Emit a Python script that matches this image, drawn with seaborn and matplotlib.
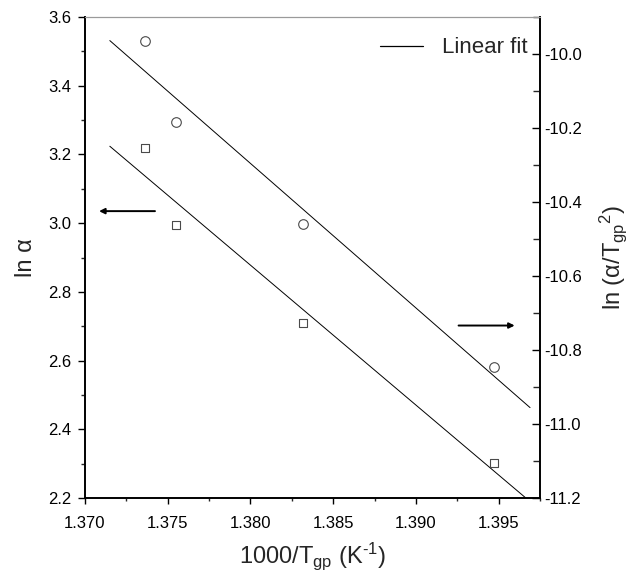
import numpy as np
import pandas as pd
import matplotlib
matplotlib.use("Agg")
import matplotlib.pyplot as plt
from matplotlib.lines import Line2D
from matplotlib.ticker import MultipleLocator, FormatStrFormatter
import seaborn as sns

# Kissinger-type data: inverse peak temperature vs heating-rate terms
inv_tgp = [1.3736, 1.3755, 1.3832, 1.3947]          # 1000/Tgp (K^-1)
ln_alpha = [3.219, 2.996, 2.708, 2.303]             # ln(alpha), left axis
ln_alpha_t2 = [-9.965, -10.185, -10.460, -10.846]   # ln(alpha/Tgp^2), right axis
fit_span = [1.3715, 1.3969]                         # x range of the fitted lines

sns.set_theme(style="white")
plt.rcParams["font.family"] = ["Liberation Sans", "DejaVu Sans"]
plt.rcParams["mathtext.fontset"] = "custom"
plt.rcParams["mathtext.rm"] = "Liberation Sans"
plt.rcParams["mathtext.it"] = "Liberation Sans:italic"
plt.rcParams["mathtext.bf"] = "Liberation Sans:bold"
plt.rcParams["axes.unicode_minus"] = False

df = pd.DataFrame({"x": inv_tgp, "ln_a": ln_alpha, "ln_at2": ln_alpha_t2})

# least-squares lines through each series
p_left = np.polyfit(df["x"], df["ln_a"], 1)
p_right = np.polyfit(df["x"], df["ln_at2"], 1)
xf = np.array(fit_span)
fit_left = pd.DataFrame({"x": xf, "y": np.polyval(p_left, xf)})
fit_right = pd.DataFrame({"x": xf, "y": np.polyval(p_right, xf)})

fig = plt.figure(figsize=(6.41, 5.73), dpi=100)
ax = fig.add_axes([0.1326, 0.1309, 0.7098, 0.8394])
ax2 = ax.twinx()

mk_edge = "#4a4a4a"
sns.scatterplot(data=df, x="x", y="ln_a", ax=ax, marker="s", s=38,
                facecolor="white", edgecolor=mk_edge, linewidth=0.8, zorder=3)
sns.lineplot(data=fit_left, x="x", y="y", ax=ax, color="black", lw=0.7)

sns.scatterplot(data=df, x="x", y="ln_at2", ax=ax2, marker="o", s=48,
                facecolor="white", edgecolor=mk_edge, linewidth=0.8, zorder=3)
sns.lineplot(data=fit_right, x="x", y="y", ax=ax2, color="black", lw=0.7)

ax.set_xlim(1.370, 1.3975)
ax.set_ylim(2.2, 3.6)
ax2.set_ylim(-11.2, -9.9)

ax.xaxis.set_major_locator(MultipleLocator(0.005))
ax.xaxis.set_minor_locator(MultipleLocator(0.0025))
ax.xaxis.set_major_formatter(FormatStrFormatter("%.3f"))
ax.yaxis.set_major_locator(MultipleLocator(0.2))
ax.yaxis.set_minor_locator(MultipleLocator(0.1))
ax.yaxis.set_major_formatter(FormatStrFormatter("%.1f"))
ax2.yaxis.set_major_locator(MultipleLocator(0.2))
ax2.yaxis.set_minor_locator(MultipleLocator(0.1))
ax2.yaxis.set_major_formatter(FormatStrFormatter("%.1f"))

tick_font = 12
ax.tick_params(axis="x", which="major", direction="out", length=4.5, width=1.0,
               pad=8.5, labelsize=tick_font, colors="black", bottom=True, top=False)
ax.tick_params(axis="x", which="minor", direction="out", length=2.5, width=1.0,
               bottom=True, top=False)
ax.tick_params(axis="y", which="major", direction="out", length=5, width=1.0,
               pad=5, labelsize=tick_font, colors="black", left=True, right=False)
ax.tick_params(axis="y", which="minor", direction="out", length=3, width=1.0,
               left=True, right=False)
ax2.tick_params(axis="y", which="major", direction="in", length=6, width=1.0,
                pad=3, labelsize=tick_font, colors="black", right=True, left=False)
ax2.tick_params(axis="y", which="minor", direction="in", length=5, width=1.0,
                right=True, left=False)

for a in (ax, ax2):
    for side in ("left", "bottom", "right"):
        a.spines[side].set_color("black")
        a.spines[side].set_linewidth(1.2)
    a.spines["top"].set_color("#9a9a9a")
    a.spines["top"].set_linewidth(0.8)

label_font = 17
ax.set_xlabel(r"1000/T$_{\mathrm{gp}}$ (K$^{\text{-1}}$)", fontsize=label_font,
              labelpad=7)
ax.set_ylabel("ln α", fontsize=label_font, labelpad=8)
ax2.set_ylabel(r"ln (α/T$_{\mathrm{gp}}$$^{\mathrm{2}}$)", fontsize=label_font,
               labelpad=11)

# arrows pointing each series to its axis
arrow_kw = dict(arrowstyle="-|>", color="black", lw=1.4, mutation_scale=8,
                shrinkA=0, shrinkB=0)
ax.annotate("", xy=(1.37085, 3.035), xytext=(1.37423, 3.035),
            arrowprops=arrow_kw)
ax.annotate("", xy=(1.39597, 2.702), xytext=(1.39258, 2.702),
            arrowprops=arrow_kw)

handle = Line2D([], [], color="black", lw=0.9)
ax2.legend([handle], ["Linear fit"], loc="center right",
           bbox_to_anchor=(0.9736, 0.936), frameon=False, fontsize=16,
           handlelength=1.95, handletextpad=0.85, borderpad=0, borderaxespad=0)

fig.savefig("out.png", dpi=100, facecolor="white")
